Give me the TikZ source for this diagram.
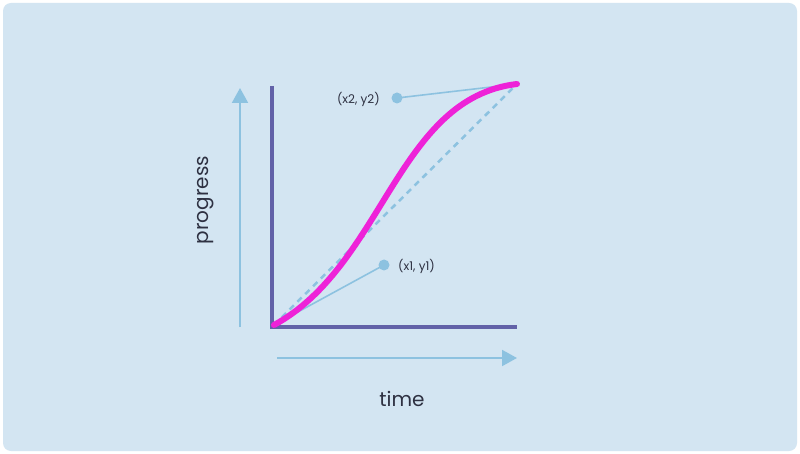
\documentclass[tikz,border=0pt]{standalone}
\usepackage{fontspec}
\setmainfont{Poppins}
\usetikzlibrary{arrows.meta}
\definecolor{bgblue}{HTML}{D3E5F2}
\definecolor{axispurple}{HTML}{6262A8}
\definecolor{curvepink}{HTML}{EE22D8}
\definecolor{lightline}{HTML}{8DC2E0}
\definecolor{textdark}{HTML}{2E3142}
\tikzset{
  axisline/.style={draw=axispurple, line width=4pt},
  guidearrow/.style={draw=lightline, line width=2pt, -{Triangle[length=15pt,width=16pt]}},
  handle/.style={draw=lightline, line width=1.6pt},
  handledot/.style={circle, fill=lightline, minimum size=11pt, inner sep=0pt},
  chord/.style={draw=lightline, line width=2.5pt, dash pattern=on 6pt off 5pt},
  curve/.style={draw=curvepink, line width=6pt, line cap=round},
  smalllabel/.style={text=textdark, font=\fontsize{12}{14}\selectfont, inner sep=0pt},
  biglabel/.style={text=textdark, font=\fontsize{20}{24}\selectfont, inner sep=0pt}
}
\begin{document}
\begin{tikzpicture}[x=1pt,y=-1pt]
\useasboundingbox (0,0) rectangle (800,454);
\fill[white] (0,0) rectangle (800,454);
\fill[bgblue, rounded corners=8pt] (3,3) rectangle (797,451);
% points
\coordinate (O) at (274,325);
\coordinate (E) at (517,84);
\node[handledot] (c1) at (384,265) {};
\node[handledot] (c2) at (397,98) {};
% axes
\coordinate (ytop) at (272,86);
\coordinate (corner) at (272,327);
\coordinate (xend) at (517,327);
\draw[axisline] (ytop) -- ([yshift=2pt]corner) ;
\draw[axisline] ([xshift=-2pt]corner) -- (xend);
% guide arrows
\coordinate (pa0) at (240,327);
\coordinate (pa1) at (240,88);
\draw[guidearrow] (pa0) -- (pa1);
\coordinate (ta0) at (277,358);
\coordinate (ta1) at (517,358);
\draw[guidearrow] (ta0) -- (ta1);
% chord
\draw[chord] (O) -- (E);
% handles
\draw[handle] (O) -- (c1.center);
\draw[handle] (c2.center) -- (E);
% curve
\draw[curve] (O) .. controls (c1.center) and (c2.center) .. (E);
% labels
\node[smalllabel, anchor=east] (l2) at (380,99) {(x2, y2)};
\node[smalllabel, anchor=west] (l1) at (398,266) {(x1, y1)};
\node[biglabel, rotate=90] (prog) at (206,200) {progress};
\node[biglabel] (time) at (402,399) {time};
\end{tikzpicture}
\end{document}
